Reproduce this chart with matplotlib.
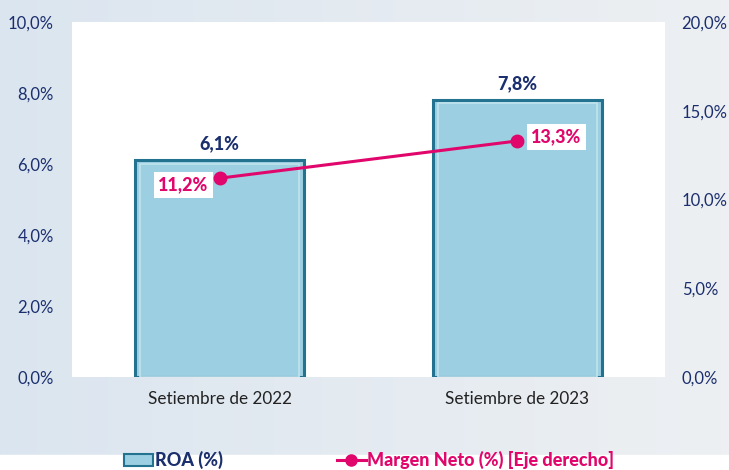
import matplotlib
matplotlib.use("Agg")
import matplotlib.pyplot as plt
import numpy as np
from matplotlib.patches import Rectangle
from matplotlib.lines import Line2D
from matplotlib.ticker import FuncFormatter

categories = ["Setiembre de 2022", "Setiembre de 2023"]
roa = [6.1, 7.8]
margen = [11.2, 13.3]
roa_labels = ["6,1%", "7,8%"]
margen_labels = ["11,2%", "13,3%"]

NAVY = "#1b2f6e"
MAG = "#e0066b"
FONT = ["Lato", "DejaVu Sans"]
plt.rcParams["font.family"] = FONT

fig = plt.figure(figsize=(7.29, 4.70), dpi=100)

# faded background
bg = fig.add_axes([0, 0, 1, 1], zorder=-10)
grad = np.linspace(0, 1, 256)
img = np.zeros((2, 256, 3))
c1 = np.array([0.86, 0.90, 0.94])
c2 = np.array([0.93, 0.94, 0.95])
for i, t in enumerate(grad):
    img[:, i, :] = c1 * (1 - t) + c2 * t
bg.imshow(img, aspect="auto", extent=[0, 1, 0, 1])
bg.add_patch(Rectangle((0, 0), 1, 15 / 470, color="white"))
bg.set_xlim(0, 1); bg.set_ylim(0, 1)
bg.axis("off")

ax = fig.add_axes([72 / 729, 1 - 377 / 470, (665 - 72) / 729, (377 - 22) / 470])
ax.set_facecolor("white")
x = np.arange(len(categories))
ax.bar(x, roa, width=0.565, color="#9ccfe1", edgecolor="#23728f", linewidth=2.2, zorder=2)
ax.bar(x, [r - 0.09 for r in roa], width=0.535, color="none", edgecolor="#bfe3ee", linewidth=1.2, zorder=3)
ax.set_xlim(-0.495, 1.495)
ax.set_ylim(0, 10)
ax.set_yticks(np.arange(0, 10.01, 2))
ax.yaxis.set_major_formatter(FuncFormatter(lambda v, p: f"{v:.1f}%".replace(".", ",")))
ax.set_xticks(x)
ax.set_xticklabels(categories, fontsize=12.3, color="#222222")
ax.tick_params(axis="x", length=0, pad=10)
ax.tick_params(axis="y", length=0, pad=13, labelsize=12, labelcolor=NAVY)
for s in ax.spines.values():
    s.set_visible(False)
for xi, v, lab in zip(x, roa, roa_labels):
    ax.annotate(lab, (xi, v), xytext=(0, 6), textcoords="offset points", ha="center", va="bottom",
                fontsize=13, fontweight="black", color=NAVY)

ax2 = ax.twinx()
ax2.set_ylim(0, 20)
ax2.set_yticks(np.arange(0, 20.01, 5))
ax2.yaxis.set_major_formatter(FuncFormatter(lambda v, p: f"{v:.1f}%".replace(".", ",")))
ax2.tick_params(axis="y", length=0, pad=12, labelsize=12, labelcolor=NAVY)
for s in ax2.spines.values():
    s.set_visible(False)
ax2.plot(x, margen, color=MAG, linewidth=2.2, marker="o", markersize=9, zorder=5)
box = dict(boxstyle="square,pad=0.25", facecolor="white", edgecolor="none")
ax2.annotate(margen_labels[0], (x[0], margen[0]), xytext=(-8, -5), textcoords="offset points",
             ha="right", va="center", fontsize=13, fontweight="black", color=MAG, bbox=box)
ax2.annotate(margen_labels[1], (x[1], margen[1]), xytext=(10, 3), textcoords="offset points",
             ha="left", va="center", fontsize=13, fontweight="black", color=MAG, bbox=box)

# legend
handles = [Rectangle((0, 0), 1, 1, facecolor="#9ccfe1", edgecolor="#23728f", linewidth=1.5),
           Line2D([0], [0], color=MAG, linewidth=2.2, marker="o", markersize=8)]
leg = fig.legend(handles, ["ROA (%)", "Margen Neto (%) [Eje derecho]"], loc="lower left",
                 bbox_to_anchor=(117 / 729, -0.014), ncol=2, frameon=False, fontsize=13,
                 handlelength=1.6, handletextpad=0.1, columnspacing=6.3, borderaxespad=0)
for t, c in zip(leg.get_texts(), [NAVY, MAG]):
    t.set_color(c)
    t.set_fontweight("black")

fig.savefig("out.png", dpi=100)
